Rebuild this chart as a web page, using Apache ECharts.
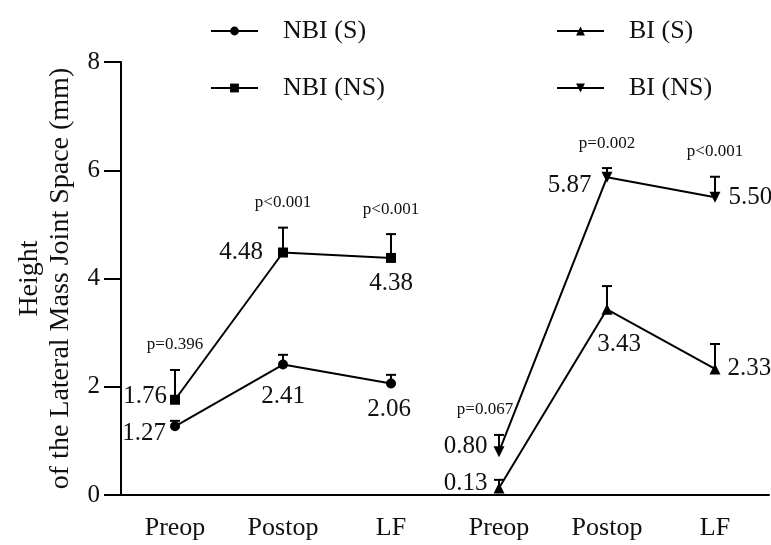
<!DOCTYPE html>
<html><head><meta charset="utf-8">
<script src="https://cdn.jsdelivr.net/npm/echarts@6/dist/echarts.min.js"></script>
<style>html,body{margin:0;padding:0;background:#fff}#c{width:771px;height:545px}</style>
</head><body><div id="c"></div>
<script>
// ---- data ----
const categories = ['Preop', 'Postop', 'LF', 'Preop', 'Postop', 'LF'];
const nbiS = [1.27, 2.41, 2.06];
const nbiSUpper = [1.37, 2.59, 2.22];
const nbiNS = [1.76, 4.48, 4.38];
const nbiNSUpper = [2.31, 4.94, 4.82];
const biS = [0.13, 3.43, 2.33];
const biSUpper = [0.28, 3.86, 2.79];
const biNS = [0.80, 5.87, 5.50];
const biNSUpper = [1.11, 6.04, 5.88];
const pNBI = ['p=0.396', 'p<0.001', 'p<0.001'];
const pBI = ['p=0.067', 'p=0.002', 'p<0.001'];
const yMin = 0, yMax = 8, yInterval = 2;

// ---- styling / layout ----
const FF = '"Liberation Serif", "Times New Roman", serif';
const labelLayouts = {
  'NBI (S)':  [{position:'left',distance:4,offset:[0,7]},{position:'bottom',distance:14,offset:[0,0]},{position:'bottom',distance:8,offset:[-2,0]}],
  'NBI (NS)': [{position:'left',distance:3,offset:[0,-3]},{position:'left',distance:15,offset:[0,0]},{position:'bottom',distance:8,offset:[0,0]}],
  'BI (S)':   [{position:'left',distance:6,offset:[0,-5]},{position:'bottom',distance:17,offset:[12,0]},{position:'right',distance:7,offset:[0,0]}],
  'BI (NS)':  [{position:'left',distance:6,offset:[0,-5]},{position:'left',distance:10,offset:[0,8]},{position:'right',distance:8,offset:[0,0]}]
};
const pShift = {'NBI': [0,0,0], 'BI': [-14,0,0]};

function lineSeries(name, vals, offset, symbol, size, rotate) {
  const lay = labelLayouts[name];
  return {
    type: 'line', name: name, z: 3,
    data: vals.map((v, i) => ({
      value: [i + offset, v],
      label: { position: lay[i].position, distance: lay[i].distance, offset: lay[i].offset }
    })),
    symbol: symbol, symbolSize: size, symbolRotate: rotate || 0,
    itemStyle: { color: '#000' },
    lineStyle: { color: '#000', width: 2 },
    label: {
      show: true, fontFamily: FF, fontSize: 25, color: '#111',
      formatter: p => p.value[1].toFixed(2)
    },
    emphasis: { disabled: true },
    animation: false
  };
}

function errSeries(vals, uppers, offset, pTexts, shifts) {
  return {
    type: 'custom', z: 2, silent: true, clip: false,
    data: vals.map((v, i) => [i + offset, v, uppers[i]]),
    encode: { x: 0, y: [1, 2] },
    renderItem: function (params, api) {
      const p = api.coord([api.value(0), api.value(1)]);
      const t = api.coord([api.value(0), api.value(2)]);
      const children = [
        { type: 'line', shape: { x1: p[0], y1: p[1], x2: t[0], y2: t[1] }, style: { stroke: '#000', lineWidth: 2 } },
        { type: 'line', shape: { x1: t[0] - 5, y1: t[1], x2: t[0] + 5, y2: t[1] }, style: { stroke: '#000', lineWidth: 2 } }
      ];
      if (pTexts) {
        children.push({
          type: 'text', x: t[0] + shifts[params.dataIndex], y: t[1] - 25,
          style: { text: pTexts[params.dataIndex], textAlign: 'center', textVerticalAlign: 'middle',
                   font: '17px ' + FF, fill: '#111' }
        });
      }
      return { type: 'group', children: children };
    },
    animation: false
  };
}

const legendBase = {
  orient: 'vertical', top: 12, itemWidth: 47, itemHeight: 11, itemGap: 29,
  selectedMode: false,
  textStyle: { fontFamily: FF, fontSize: 26, color: '#111', padding: [0, 0, 0, 20], lineHeight: 28 }
};

const chart = echarts.init(document.getElementById('c'));
chart.setOption({
  backgroundColor: '#fff',
  animation: false,
  legend: [
    Object.assign({}, legendBase, { left: 205, data: ['NBI (S)', 'NBI (NS)'] }),
    Object.assign({}, legendBase, { left: 551, data: ['BI (S)', 'BI (NS)'] })
  ],
  grid: { left: 121, right: 2, top: 62, bottom: 50, containLabel: false, outerBoundsMode: 'none' },
  xAxis: {
    type: 'category', data: categories, boundaryGap: true,
    axisLine: { lineStyle: { color: '#000', width: 2 } },
    axisTick: { alignWithLabel: true, length: 16, lineStyle: { color: '#000', width: 2 } },
    axisLabel: { fontFamily: FF, fontSize: 26, color: '#111', margin: 20, interval: 0 },
    splitLine: { show: false }
  },
  yAxis: {
    type: 'value', min: yMin, max: yMax, interval: yInterval,
    name: 'Height\nof the Lateral Mass Joint Space (mm)',
    nameLocation: 'middle', nameRotate: 90, nameGap: 45,
    nameTextStyle: { fontFamily: FF, fontSize: 28, color: '#111', lineHeight: 31, align: 'center' },
    axisLine: { show: true, lineStyle: { color: '#000', width: 2 } },
    axisTick: { show: true, length: 17, lineStyle: { color: '#000', width: 2 } },
    axisLabel: { fontFamily: FF, fontSize: 25, color: '#111', margin: 21 },
    splitLine: { show: false }
  },
  series: [
    errSeries(nbiS, nbiSUpper, 0, null, null),
    errSeries(nbiNS, nbiNSUpper, 0, pNBI, pShift.NBI),
    errSeries(biS, biSUpper, 3, null, null),
    errSeries(biNS, biNSUpper, 3, pBI, pShift.BI),
    lineSeries('NBI (S)', nbiS, 0, 'circle', 10),
    lineSeries('NBI (NS)', nbiNS, 0, 'rect', 10),
    lineSeries('BI (S)', biS, 3, 'triangle', 11),
    lineSeries('BI (NS)', biNS, 3, 'triangle', 11, 180)
  ]
});
</script>
</body></html>
